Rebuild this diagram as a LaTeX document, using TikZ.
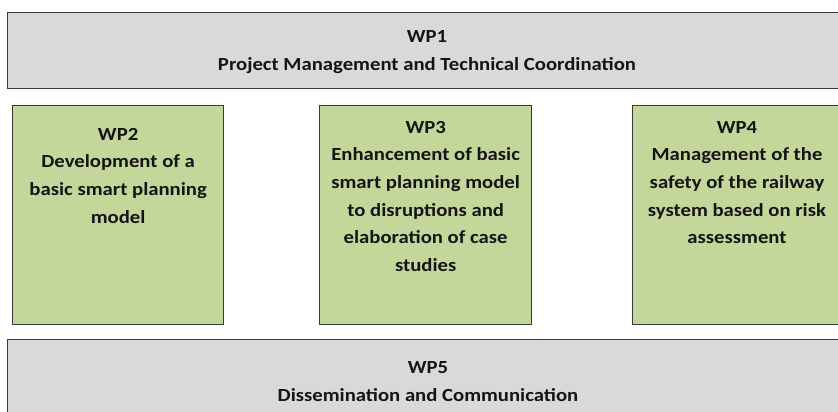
\documentclass[tikz,border=0pt]{standalone}
\usepackage{fontspec}
\setmainfont{Carlito}
\newfontfamily\wpfont[FakeStretch=1.12]{Carlito}
\definecolor{boxgray}{HTML}{D9D9D9}
\definecolor{boxgreen}{HTML}{C4D79B}
\definecolor{edge}{HTML}{3A3A3A}
\tikzset{
  graybox/.style={draw=edge, line width=1.3pt, fill=boxgray, anchor=north west, inner sep=0pt},
  greenbox/.style={draw=edge, line width=1.3pt, fill=boxgreen, anchor=north west, inner sep=0pt},
  wptext/.style={align=center, font=\wpfont\fontsize{18.5}{27.6}\selectfont\bfseries, text=black!92, inner sep=0pt, anchor=north}
}
\begin{document}
\begin{tikzpicture}[x=1pt,y=1pt]
\useasboundingbox (0,0) rectangle (838,412);
\clip (0,0) rectangle (838,412);
\node[graybox, minimum width=845pt, minimum height=76pt] (wp1) at (7,400) {};
\node[greenbox, minimum width=211pt, minimum height=219pt] (wp2) at (12,307) {};
\node[greenbox, minimum width=212pt, minimum height=219pt] (wp3) at (319,307) {};
\node[greenbox, minimum width=220pt, minimum height=219pt] (wp4) at (632,307) {};
\node[graybox, minimum width=845pt, minimum height=90pt] (wp5) at (7,73) {};
\node[wptext] (t1) at (427,381.5) {WP1\\Project Management and Technical Coordination};
\node[wptext] (t2) at ([yshift=-23pt]wp2.north) {WP2\\Development of a\\basic smart planning\\model};
\node[wptext] (t3) at ([yshift=-16pt]wp3.north) {WP3\\Enhancement of basic\\smart planning model\\to disruptions and\\elaboration of case\\studies};
\node[wptext] (t4) at (737,291) {WP4\\Management of the\\safety of the railway\\system based on risk\\assessment};
\node[wptext] (t5) at (428,50.5) {WP5\\Dissemination and Communication};
\end{tikzpicture}
\end{document}
